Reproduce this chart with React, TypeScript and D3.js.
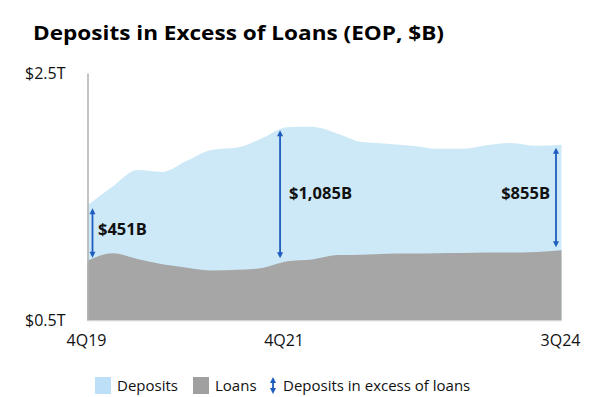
import React from "react";
import * as d3 from "d3";

const quarters = [
  "4Q19", "1Q20", "2Q20", "3Q20", "4Q20", "1Q21", "2Q21", "3Q21", "4Q21", "1Q22",
  "2Q22", "3Q22", "4Q22", "1Q23", "2Q23", "3Q23", "4Q23", "1Q24", "2Q24", "3Q24",
];
// $B, end of period
const deposits = [
  1434, 1583, 1718, 1703, 1795, 1883, 1900, 1975, 2064, 2068,
  2015, 1945, 1932, 1915, 1890, 1890, 1920, 1938, 1915, 1924,
];
const loans = [
  983, 1045, 998, 955, 928, 905, 910, 925, 979, 994,
  1030, 1033, 1040, 1042, 1045, 1046, 1050, 1050, 1055, 1069,
];
const tickQuarters = ["4Q19", "4Q21", "3Q24"];
const yTicks = [500, 2500];
const yTickLabels = ["$0.5T", "$2.5T"];
const callouts = [
  { q: "4Q19", label: "$451B" },
  { q: "4Q21", label: "$1,085B" },
  { q: "3Q24", label: "$855B" },
];
const legendItems = ["Deposits", "Loans", "Deposits in excess of loans"];

const DEP = "#cde9f7";
const LOAN = "#a6a6a6";
const ARROW = "#1f5cbf";
const FONT = "'Open Sans', 'Noto Sans', sans-serif";

function Arrow({ x, y1, y2 }: { x: number; y1: number; y2: number }) {
  const h = 6, w = 3;
  return (
    <g>
      <line x1={x} x2={x} y1={y1 + h - 1} y2={y2 - h + 1} stroke={ARROW} strokeWidth={1.8} />
      <path d={`M${x},${y1} L${x - w},${y1 + h} L${x + w},${y1 + h} Z`} fill={ARROW} />
      <path d={`M${x},${y2} L${x - w},${y2 - h} L${x + w},${y2 - h} Z`} fill={ARROW} />
    </g>
  );
}

export default function App() {
  const W = 601, H = 397;
  const x = d3.scalePoint<string>().domain(quarters).range([87.5, 561.5]);
  const y = d3.scaleLinear().domain([500, 2500]).range([320.5, 73.5]);

  const depArea = d3
    .area<number>()
    .x((_, i) => x(quarters[i])!)
    .y0(y(500))
    .y1((d) => y(d))
    .curve(d3.curveMonotoneX);
  const loanArea = d3
    .area<number>()
    .x((_, i) => x(quarters[i])!)
    .y0(y(500))
    .y1((d) => y(d))
    .curve(d3.curveMonotoneX);

  const arrowX: Record<string, number> = { "4Q19": 5, "4Q21": -7, "3Q24": -5.5 };

  return (
    <svg width={W} height={H} style={{ position: "absolute", left: 0, top: 0, background: "#fff" }} fontFamily={FONT}>
      <text x={33} y={40} fontSize={20} fontWeight={700} fill="#000" textLength={411} lengthAdjust="spacingAndGlyphs">
        Deposits in Excess of Loans (EOP, $B)
      </text>

      <path d={depArea(deposits)!} fill={DEP} />
      <path d={loanArea(loans)!} fill={LOAN} />
      <line x1={87.5} x2={561.5} y1={320.8} y2={320.8} stroke="#d6d6d6" strokeWidth={1} />
      <line x1={88} x2={88} y1={y(2500)} y2={y(500)} stroke="#b0b0b0" strokeWidth={1.5} />

      {yTicks.map((t, i) => (
        <text key={t} x={25} y={y(t)} dy="0.35em" fontSize={16} fill="#111">
          {yTickLabels[i]}
        </text>
      ))}
      {tickQuarters.map((q) => (
        <text key={q} x={x(q)! - (q === "4Q21" ? 3 : 1)} y={346} textAnchor="middle" fontSize={16} fill="#111">
          {q}
        </text>
      ))}

      {callouts.map((c) => {
        const i = quarters.indexOf(c.q);
        const ax = x(c.q)! + arrowX[c.q];
        const y1 = y(deposits[i]) + 3;
        const y2 = y(loans[i]) - 3;
        return <Arrow key={c.q} x={ax} y1={y1} y2={y2} />;
      })}
      <text x={98} y={229} dy="0.35em" fontSize={16.5} fontWeight={700} fill="#111">{callouts[0].label}</text>
      <text x={289} y={193} dy="0.35em" fontSize={16.5} fontWeight={700} fill="#111">{callouts[1].label}</text>
      <text x={550} y={193} dy="0.35em" textAnchor="end" fontSize={16.5} fontWeight={700} fill="#111">{callouts[2].label}</text>

      <g fontSize={15} fill="#111">
        <rect x={95} y={377} width={16} height={17} fill="#bde0f8" />
        <text x={117} y={385.5} dy="0.35em">{legendItems[0]}</text>
        <rect x={193} y={377} width={16} height={17} fill="#a0a0a0" />
        <text x={215} y={385.5} dy="0.35em">{legendItems[1]}</text>
        <Arrow x={273} y1={377} y2={394} />
        <text x={283} y={385.5} dy="0.35em">{legendItems[2]}</text>
      </g>
    </svg>
  );
}
